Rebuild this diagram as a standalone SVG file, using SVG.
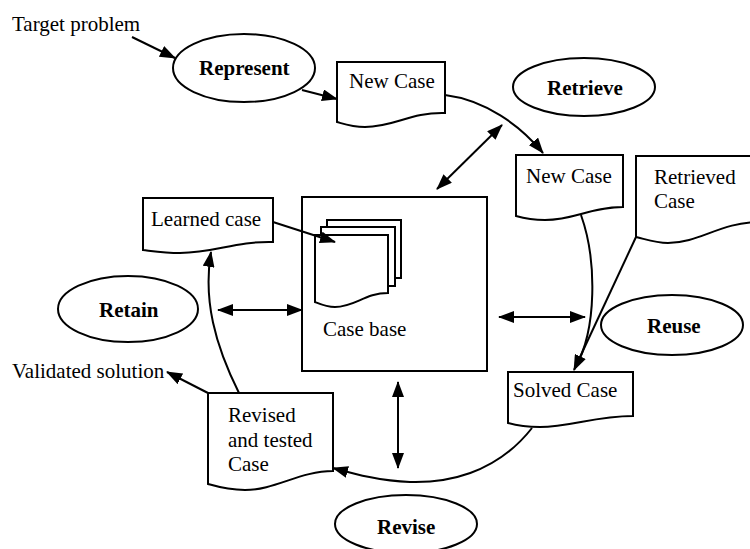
<svg xmlns="http://www.w3.org/2000/svg" width="750" height="549" viewBox="0 0 750 549">
<style>
  .shape { fill: #fff; stroke: #000; stroke-width: 2; }
  text { font-family: 'Liberation Serif', 'DejaVu Serif', serif; font-size: 21px; fill: #000; }
  .bold { font-weight: bold; }
  .conn { fill: none; stroke: #000; stroke-width: 2; }
</style>
<defs>
  <marker id="ah" viewBox="0 0 16 12" refX="15" refY="6" markerWidth="16" markerHeight="12" markerUnits="userSpaceOnUse" orient="auto-start-reverse">
    <path d="M0,0 L16,6 L0,12 Z" fill="#000"/>
  </marker>
</defs>
<rect width="750" height="549" fill="#fff"/>

<g id="case-base">
  <rect class="shape" x="302" y="197" width="185" height="174"/>
  <rect class="shape" x="327" y="220" width="74" height="58"/>
  <rect class="shape" x="321" y="227" width="74" height="59"/>
  <path class="shape" d="M315,235 H388 V293 C365,293 355,307 335,307 C327,307 320,304 315,302 Z"/>
  <text x="323" y="336" font-family="Liberation Serif, serif">Case base</text>
</g>

<g id="represent">
  <ellipse class="shape" cx="244" cy="68" rx="71" ry="34"/>
  <text class="bold" x="199" y="75" font-family="Liberation Serif, serif">Represent</text>
</g>
<g id="retrieve">
  <ellipse class="shape" cx="584" cy="87" rx="71" ry="29"/>
  <text class="bold" x="547" y="95" font-family="Liberation Serif, serif">Retrieve</text>
</g>
<g id="retain">
  <ellipse class="shape" cx="128" cy="309" rx="70" ry="33"/>
  <text class="bold" x="99" y="317" font-family="Liberation Serif, serif">Retain</text>
</g>
<g id="reuse">
  <ellipse class="shape" cx="672" cy="325" rx="71" ry="30"/>
  <text class="bold" x="647" y="333" font-family="Liberation Serif, serif">Reuse</text>
</g>
<g id="revise">
  <ellipse class="shape" cx="406" cy="524" rx="71" ry="29"/>
  <text class="bold" x="377" y="534" font-family="Liberation Serif, serif">Revise</text>
</g>

<g id="new-case-1">
  <path class="shape" d="M337,62 H445 V113 C410,112 395,127 365,127 C352,127 344,124 337,122 Z"/>
  <text x="349" y="88" font-family="Liberation Serif, serif">New Case</text>
</g>
<g id="new-case-2">
  <path class="shape" d="M516,155 H623 V207 C590,207 575,220 545,220 C532,220 523,218 516,216 Z"/>
  <text x="526" y="183" font-family="Liberation Serif, serif">New Case</text>
</g>
<g id="retrieved-case">
  <path class="shape" d="M636,156 H760 V222 C720,222 700,243 668,243 C655,243 645,239 636,237 Z"/>
  <text x="654" y="184" font-family="Liberation Serif, serif">Retrieved</text>
  <text x="654" y="208" font-family="Liberation Serif, serif">Case</text>
</g>
<g id="learned-case">
  <path class="shape" d="M143,198 H273 V242 C235,241 215,253 180,253 C165,253 152,251 143,250 Z"/>
  <text x="151" y="226" font-family="Liberation Serif, serif">Learned case</text>
</g>
<g id="solved-case">
  <path class="shape" d="M508,372 H633 V416 C595,416 570,427 540,427 C525,427 515,425 508,423 Z"/>
  <text x="513" y="397" font-family="Liberation Serif, serif">Solved Case</text>
</g>
<g id="revised-case">
  <path class="shape" d="M208,393 H333 V471 C300,471 275,490 245,490 C228,490 215,486 208,484 Z"/>
  <text x="228" y="422" font-family="Liberation Serif, serif">Revised</text>
  <text x="228" y="447" font-family="Liberation Serif, serif">and tested</text>
  <text x="228" y="471" font-family="Liberation Serif, serif">Case</text>
</g>

<g id="target-problem">
  <text x="12" y="31" font-family="Liberation Serif, serif">Target problem</text>
</g>
<g id="validated-solution">
  <text x="12" y="378" font-family="Liberation Serif, serif">Validated solution</text>
</g>

<g id="connectors">
  <path class="conn" d="M132,37 L175,58" marker-end="url(#ah)"/>
  <path class="conn" d="M302,90 L337,99" marker-end="url(#ah)"/>
  <path class="conn" d="M445,95 C485,100 520,125 543,153" marker-end="url(#ah)"/>
  <path class="conn" d="M437,189 L502,125" marker-start="url(#ah)" marker-end="url(#ah)"/>
  <path class="conn" d="M581,215 C597,260 597,330 575,368"/>
  <path class="conn" d="M636,237 L574,370" marker-end="url(#ah)"/>
  <path class="conn" d="M499,317 L585,317" marker-start="url(#ah)" marker-end="url(#ah)"/>
  <path class="conn" d="M398,382 L398,468" marker-start="url(#ah)" marker-end="url(#ah)"/>
  <path class="conn" d="M532,428 C495,475 445,483 410,482 C380,481 355,474 333,468" marker-end="url(#ah)"/>
  <path class="conn" d="M239,393 C215,345 203,300 211,252" marker-end="url(#ah)"/>
  <path class="conn" d="M208,393 L167,372" marker-end="url(#ah)"/>
  <path class="conn" d="M273,222 L335,242" marker-end="url(#ah)"/>
  <path class="conn" d="M218,310 L302,310" marker-start="url(#ah)" marker-end="url(#ah)"/>
</g>
</svg>
